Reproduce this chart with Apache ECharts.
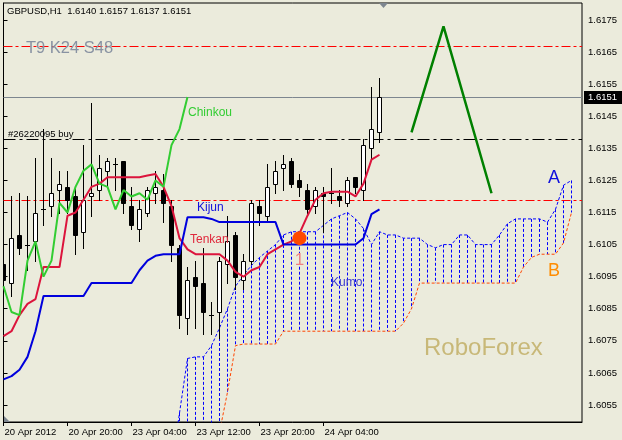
<!DOCTYPE html>
<html><head><meta charset="utf-8">
<script src="https://cdn.jsdelivr.net/npm/echarts@6/dist/echarts.min.js"></script>
<style>html,body{margin:0;padding:0;background:#ebebdc}#c{width:622px;height:440px}</style>
</head><body><div id="c"></div>
<script>
// ---------- data ----------
const symbolName = 'GBPUSD,H1';
const timeTickIndex = [0, 8, 16, 24, 32, 40];
const timeTickLabels = ['20 Apr 2012', '20 Apr 20:00', '23 Apr 04:00', '23 Apr 12:00', '23 Apr 20:00', '24 Apr 04:00'];
const priceTicks = [1.6055, 1.6065, 1.6075, 1.6085, 1.6095, 1.6105, 1.6115, 1.6125, 1.6135, 1.6145, 1.6155, 1.6165, 1.6175];

const opens = [1.6099,1.6093,1.6108,1.6105,1.6106,1.6116,1.6117,1.6122,1.6123,1.6120,
 1.6109,1.6120,1.6122,1.6128,1.6130,1.6131,1.6117,1.6110,1.6115,1.6121,
 1.6122,1.6117,1.6104,1.6082,1.6095,1.6093,1.6083,1.6084,1.6099,1.6108,
 1.6094,1.6100,1.6117,1.6114,1.6124,1.6129,1.6131,1.6125,1.6122,1.6117,
 1.6121,1.6121,1.6120,1.6118,1.6126,1.6122,1.6135,1.6140];
const highs = [1.6113,1.6120,1.6121,1.6120,1.6132,1.6141,1.6132,1.6128,1.6128,1.6123,
 1.6136,1.6149,1.6133,1.6132,1.6132,1.6131,1.6123,1.6119,1.6123,1.6128,
 1.6127,1.6119,1.6105,1.6098,1.6100,1.6104,1.6087,1.6101,1.6114,1.6109,
 1.6102,1.6119,1.6119,1.6130,1.6131,1.6133,1.6132,1.6127,1.6124,1.6123,
 1.6123,1.6129,1.6122,1.6126,1.6126,1.6138,1.6154,1.6157];
const lows = [1.6087,1.6089,1.6102,1.6097,1.6100,1.6111,1.6114,1.6115,1.6115,1.6102,
 1.6104,1.6114,1.6119,1.6123,1.6122,1.6115,1.6110,1.6106,1.6114,1.6118,
 1.6112,1.6100,1.6079,1.6077,1.6079,1.6077,1.6077,1.6076,1.6093,1.6091,
 1.6091,1.6099,1.6111,1.6112,1.6121,1.6122,1.6123,1.6120,1.6115,1.6115,
 1.6109,1.6118,1.6117,1.6117,1.6121,1.6119,1.6132,1.6137];
const closes = [1.6094,1.6107,1.6104,1.6105,1.6115,1.6116,1.6121,1.6124,1.6119,1.6108,
 1.6119,1.6121,1.6129,1.6131,1.6130,1.6118,1.6111,1.6116,1.6122,1.6123,
 1.6118,1.6105,1.6083,1.6094,1.6092,1.6084,1.6083,1.6100,1.6106,1.6095,
 1.6100,1.6118,1.6115,1.6123,1.6128,1.6130,1.6124,1.6123,1.6116,1.6122,
 1.6120,1.6121,1.6119,1.6125,1.6123,1.6136,1.6141,1.6151];

const tenkan = [1.60765,1.6078,1.6083,1.60865,1.6088,1.6098,1.6098,1.6098,1.6114,1.6115,
 1.6119,1.6123,1.6124,1.6126,1.6126,1.6126,1.6126,1.6126,1.61265,1.6127,
 1.6123,1.6117,1.6107,1.61035,1.6102,1.6102,1.6102,1.6102,1.6100,1.60965,
 1.6095,1.6097,1.6098,1.6102,1.61035,1.6105,1.6106,1.61085,1.6114,1.6119,
 1.6121,1.61215,1.61215,1.61215,1.6120,1.6124,1.61315,1.6133];
const kijun = [1.6063,1.6064,1.6066,1.6070,1.6078,1.6089,1.6089,1.6089,1.6089,1.6089,
 1.6089,1.6093,1.6093,1.6093,1.6093,1.6093,1.6093,1.6097,1.6100,1.61015,
 1.6102,1.6102,1.6102,1.61135,1.61135,1.61135,1.6113,1.6112,1.6112,1.6112,
 1.6112,1.6112,1.6112,1.6112,1.6112,1.6105,1.6105,1.6105,1.6105,1.6105,
 1.6105,1.6105,1.6105,1.6105,1.6105,1.6107,1.61145,1.6116];
const chinkouShift = 24;
const senkouAStart = 21;
const senkouA = [1.60355,1.60525,1.60695,1.6070,1.6070,1.60735,1.6079,1.6085,1.6092,1.60955,
 1.60985,1.6101,1.6103,1.6105,1.6108,1.6109,1.6109,1.6109,1.6109,1.6111,
 1.6113,1.6114,1.6115,1.6113,1.6110,1.6105,1.6109,1.6108,1.6108,1.6107,
 1.6107,1.6107,1.6105,1.6104,1.6105,1.6105,1.6108,1.6108,1.6105,1.6105,
 1.6105,1.6108,1.61115,1.6113,1.6113,1.6113,1.6113,1.6112,1.6116,1.61235,
 1.6125];
const senkouBStart = 26;
const senkouB = [1.6035,1.60465,1.6059,1.60735,
 1.6074,1.6074,1.6074,1.6074,1.6074,
 1.6078,1.6078,1.6078,1.6078,1.6078,1.6078,1.6078,1.6078,1.6078,1.6078,1.6078,1.6078,1.6078,1.6078,1.6078,
 1.60805,1.6085,
 1.6093,1.6093,1.6093,1.6093,1.6093,1.6093,1.6093,1.6093,1.6093,1.6093,1.6093,1.6093,1.6093,
 1.6098,1.6101,1.6102,1.6102,1.6102,1.61055,1.6115];

const zigzagX = [51, 55, 61];
const zigzagY = [1.6140, 1.6173, 1.6121];
const signalX = [37];
const signalY = [1.6107];
const signalText = '1';
const levelRed = [1.6167, 1.6119];
const levelOrder = [1.6138];
const orderText = '#26220095 buy';
const settingsText = 'T9 K24 S48';

// ---------- chart ----------
const GRID_LEFT = 3.5, GRID_RIGHT = 40, BAR_PX = 8;
const X_MIN = 0, X_MAX = (622 - GRID_LEFT - GRID_RIGHT) / BAR_PX;
const Y_MIN = 1.60497, Y_MAX = 1.61803;
const FONT = '"Liberation Sans", Arial, sans-serif';
const n = closes.length;
const last = n - 1;
const bid = closes[last];

const candleData = opens.map((o, i) => [i, o, closes[i], lows[i], highs[i]]);
// kumo hatch: vertical segments from span A to span B at each bar, broken by nulls
const hatchData = [];
senkouA.forEach((a, k) => {
  const i = senkouAStart + k;
  if (i < 22) return;
  const bi = i - senkouBStart;
  const b = (bi >= 0 && bi < senkouB.length) ? senkouB[bi] : Y_MIN;
  hatchData.push([i, a], [i, b], [i, null]);
});

function renderCandle(params, api) {
  const i = api.value(0), o = api.value(1), c = api.value(2), l = api.value(3), h = api.value(4);
  const pO = api.coord([i, o]), pC = api.coord([i, c]), pL = api.coord([i, l]), pH = api.coord([i, h]);
  const cx = Math.floor(pO[0]) + 0.5;
  const hw = Math.round(api.size([1, 0])[0] / 4);
  const top = Math.round(Math.min(pO[1], pC[1])), bot = Math.round(Math.max(pO[1], pC[1]));
  const ch = [{type: 'line', shape: {x1: cx, y1: Math.round(pH[1]), x2: cx, y2: Math.round(pL[1]) + 1},
    style: {stroke: '#000', lineWidth: 1}}];
  if (bot - top < 1) {
    ch.push({type: 'line', shape: {x1: cx - hw - 0.5, y1: top + 0.5, x2: cx + hw + 0.5, y2: top + 0.5},
      style: {stroke: '#000', lineWidth: 1}});
  } else {
    ch.push({type: 'rect', shape: {x: cx - hw, y: top + 0.5, width: hw * 2, height: bot - top},
      style: {stroke: '#000', lineWidth: 1, fill: c >= o ? '#ffffff' : '#000000'}});
  }
  return {type: 'group', children: ch};
}
function renderSignal(params, api) {
  const p = api.coord([api.value(0), api.value(1)]);
  return {type: 'group', children: [
    {type: 'circle', shape: {cx: p[0], cy: p[1], r: 7}, style: {fill: '#ff4800'}},
    {type: 'text', x: p[0], y: p[1] + 22, style: {text: signalText, fill: '#f08080', font: '17px ' + FONT, align: 'center', verticalAlign: 'middle'}}
  ]};
}
const renderLevel = (color, dash, withLabel) => function (params, api) {
  const v = api.value(1);
  const p = api.coord([X_MIN, v]);
  const cs = params.coordSys;
  const y = Math.round(p[1]) + 0.5;
  const ch = [{type: 'line', shape: {x1: cs.x, y1: y, x2: cs.x + cs.width, y2: y},
    style: {stroke: color, lineWidth: 1, lineDash: dash}}];
  if (withLabel) {
    ch.push({type: 'text', x: cs.x + cs.width + 2, y: y,
      style: {text: v.toFixed(4), fill: '#ffffff', backgroundColor: '#000000', padding: [2, 6, 1, 4],
        font: '9.5px ' + FONT, align: 'left', verticalAlign: 'middle'}});
  }
  return {type: 'group', children: ch};
};

const chart = echarts.init(document.getElementById('c'), null, {renderer: 'canvas'});
const txt = (x, y, s, fill, size) => ({type: 'text', x, y, z: 100,
  style: {text: s, fill, font: size + 'px ' + FONT, align: 'left', verticalAlign: 'middle'}});
const lineSeries = (name, data, color, width, type, z) => ({
  type: 'line', name, data, symbol: 'none', showSymbol: false, silent: true, z,
  connectNulls: false, color, itemStyle: {color},
  lineStyle: {color, width, type}});
const levelSeries = (name, values, color, dash, withLabel) => ({
  type: 'custom', name, silent: true, z: 2, clip: false,
  renderItem: renderLevel(color, dash, withLabel),
  data: values.map(v => [X_MIN, v]), encode: {x: 0, y: 1}});

chart.setOption({
  animation: false,
  backgroundColor: '#ebebdc',
  grid: {left: GRID_LEFT, top: 3, right: GRID_RIGHT, bottom: 18, show: true, borderColor: '#000', borderWidth: 1, backgroundColor: 'transparent'},
  xAxis: {
    type: 'value', min: X_MIN, max: X_MAX,
    splitLine: {show: false},
    axisLine: {show: true, onZero: false, lineStyle: {color: '#000', width: 1}},
    axisTick: {show: true, customValues: timeTickIndex, length: 4, lineStyle: {color: '#000'}},
    axisLabel: {customValues: timeTickIndex, formatter: v => timeTickLabels[timeTickIndex.indexOf(v)] || '',
      align: 'left', color: '#000', fontSize: 9.5, fontFamily: FONT, margin: 5, padding: [0, 0, 0, 1]}
  },
  yAxis: {
    type: 'value', position: 'right', min: Y_MIN, max: Y_MAX, scale: true,
    splitLine: {show: false},
    axisLine: {show: true, lineStyle: {color: '#000', width: 1}},
    axisTick: {show: true, customValues: priceTicks, length: 4, lineStyle: {color: '#000'}},
    axisLabel: {customValues: priceTicks, formatter: v => v.toFixed(4), color: '#000', fontSize: 9.5, fontFamily: FONT, margin: 6}
  },
  series: [
    lineSeries('kumo', hatchData, '#0000ff', 1, [3, 2], 1),
    lineSeries('senkouA', senkouA.map((v, k) => [senkouAStart + k, v]), '#0000ff', 1, [3, 2], 2),
    lineSeries('senkouB', senkouB.map((v, k) => [senkouBStart + k, v]), '#ff4500', 1, [3, 2], 2),
    levelSeries('levelRed', levelRed, '#ff0000', [9, 3, 3, 3], false),
    levelSeries('order', levelOrder, '#000000', [12, 4, 3, 4], false),
    levelSeries('bid', [bid], '#7d868f', null, true),
    {type: 'custom', name: 'candles', renderItem: renderCandle, data: candleData, clip: true, z: 3, silent: true,
      encode: {x: 0, y: [1, 2, 3, 4]}},
    lineSeries('tenkan', tenkan.map((v, i) => [i, v]), '#dc143c', 2, 'solid', 4),
    lineSeries('kijun', kijun.map((v, i) => [i, v]), '#0000dd', 2, 'solid', 4),
    lineSeries('chinkou', closes.slice(chinkouShift).map((v, k) => [k, v]), '#32cd32', 2, 'solid', 4),
    lineSeries('zigzag', zigzagX.map((x, k) => [x, zigzagY[k]]), '#008000', 2.5, 'solid', 4),
    {type: 'custom', name: 'signal', renderItem: renderSignal, data: signalX.map((x, k) => [x, signalY[k]]), z: 5, silent: true,
      encode: {x: 0, y: 1}}
  ],
  graphic: [
    txt(7, 11, symbolName + '  ' + [opens[last], highs[last], lows[last], closes[last]].map(v => v.toFixed(4)).join(' '), '#000', 9.5),
    txt(26, 48, settingsText, '#8892a2', 16.5),
    txt(8, 134, orderText, '#000', 9.5),
    txt(188, 113, 'Chinkou', '#32cd32', 12),
    txt(197, 208, 'Kijun', '#1010dd', 12),
    txt(190, 240, 'Tenkan', '#e0283c', 12),
    txt(331, 283, 'Kumo', '#3c3cd0', 12),
    txt(548, 178, 'A', '#1010dd', 18),
    txt(548, 271, 'B', '#ff8c00', 18),
    txt(424, 348, 'RoboForex', '#c8b878', 24),
    {type: 'polygon', z: 100, shape: {points: [[379, 3], [388, 3], [383.5, 8]]}, style: {fill: '#7d868f'}},
    {type: 'polygon', z: 100, shape: {points: [[4, 416], [4, 422], [10, 422]]}, style: {fill: '#7d868f'}}
  ]
});
</script></body></html>
